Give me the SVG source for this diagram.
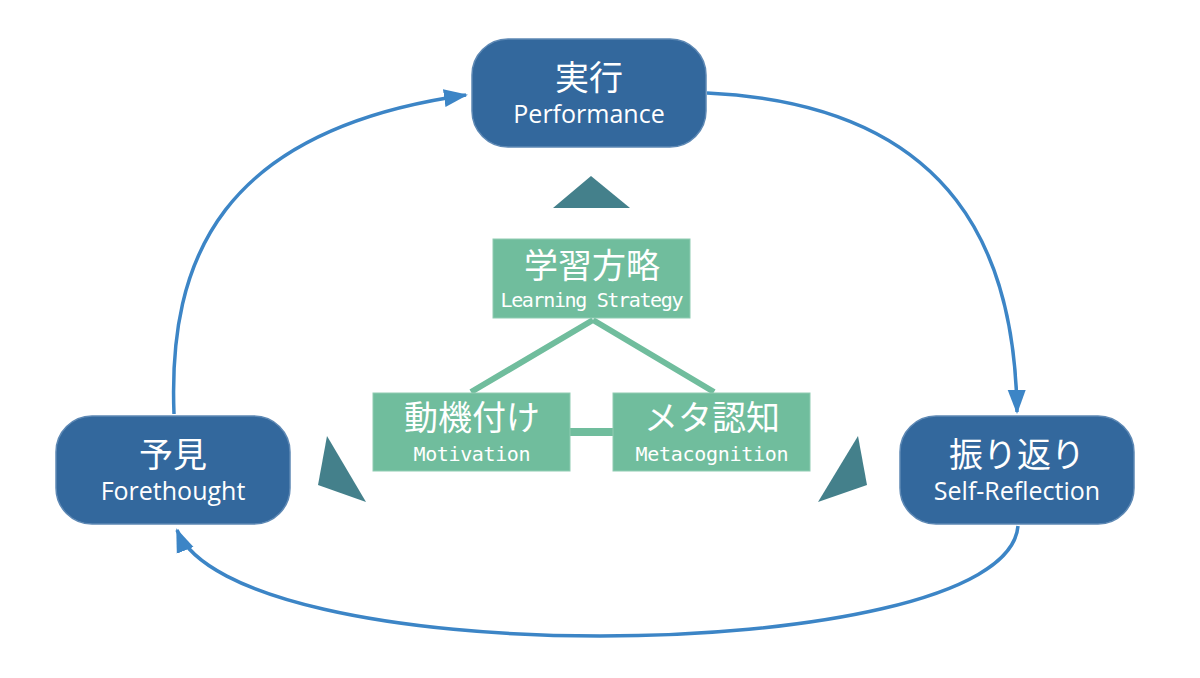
<svg xmlns="http://www.w3.org/2000/svg" width="1200" height="678" viewBox="0 0 1200 678">
<defs>
<style>
.phase{fill:#33689D;stroke:#5D88B4;stroke-width:1.5}
.strat{fill:#70BD9D;stroke:#8FCCB2;stroke-width:1}
.jp{font-family:"Noto Sans CJK JP","Noto Sans",sans-serif;fill:#fff;text-anchor:middle}
.en{font-family:"Open Sans","Noto Sans",sans-serif;fill:#fff;text-anchor:middle;font-size:25px}
.mono{font-family:"DejaVu Sans Mono","Liberation Mono",monospace;fill:#fff;text-anchor:middle;font-size:20px}
.flow{fill:none;stroke:#3C85C6;stroke-width:3.5}
.link{stroke:#70BD9D;stroke-width:6;fill:none}
.tri{fill:#44808B}
</style>
<marker id="ah2" markerWidth="24" markerHeight="20" refX="22" refY="10" orient="auto" markerUnits="userSpaceOnUse" viewBox="0 0 24 20">
<path d="M0,1 L24,10 L0,19 z" fill="#3C85C6"/>
</marker>
</defs>
<rect width="1200" height="678" fill="#fff"/>
<g id="connectors">
<path class="flow" d="M174,414 C168,260 220,130 466,95" marker-end="url(#ah2)"/>
<path class="flow" d="M707,93 C960,105 1015,260 1017,412" marker-end="url(#ah2)"/>
<path class="flow" d="M1018,526 C1012,600 800,636 600,636 C400,636 205,600 177,530" marker-end="url(#ah2)"/>
<path class="link" d="M593,320 L471,392 M593,320 L714,392"/>
<path d="M570,432 L613,432" stroke="#70BD9D" stroke-width="8"/>
</g>
<g id="triangles">
<polygon class="tri" points="553,208 591,176 630,208"/>
<polygon class="tri" points="327,436 318,485 366,502"/>
<polygon class="tri" points="858,436 867,485 818,502"/>
</g>
<g id="performance">
<rect class="phase" x="472" y="39" width="234" height="108" rx="36"/>
<text class="jp" x="589" y="90" font-size="34">実行</text>
<text class="en" x="589" y="123">Performance</text>
</g>
<g id="forethought">
<rect class="phase" x="56" y="416" width="234" height="108" rx="36"/>
<text class="jp" x="173" y="467" font-size="34">予見</text>
<text class="en" x="173" y="500">Forethought</text>
</g>
<g id="selfreflection">
<rect class="phase" x="900" y="416" width="234" height="108" rx="36"/>
<text class="jp" x="1017" y="467" font-size="34">振り返り</text>
<text class="en" x="1017" y="500">Self-Reflection</text>
</g>
<g id="learningstrategy">
<rect class="strat" x="493" y="239" width="197" height="79"/>
<text class="jp" x="592" y="278" font-size="34">学習方略</text>
<text class="mono" x="592" y="307" textLength="183" lengthAdjust="spacing">Learning Strategy</text>
</g>
<g id="motivation">
<rect class="strat" x="373" y="393" width="197" height="78"/>
<text class="jp" x="472" y="430" font-size="34">動機付け</text>
<text class="mono" x="472" y="461" textLength="117" lengthAdjust="spacing">Motivation</text>
</g>
<g id="metacognition">
<rect class="strat" x="613" y="393" width="197" height="78"/>
<text class="jp" x="712" y="430" font-size="34">メタ認知</text>
<text class="mono" x="712" y="461" textLength="153" lengthAdjust="spacing">Metacognition</text>
</g>
</svg>
